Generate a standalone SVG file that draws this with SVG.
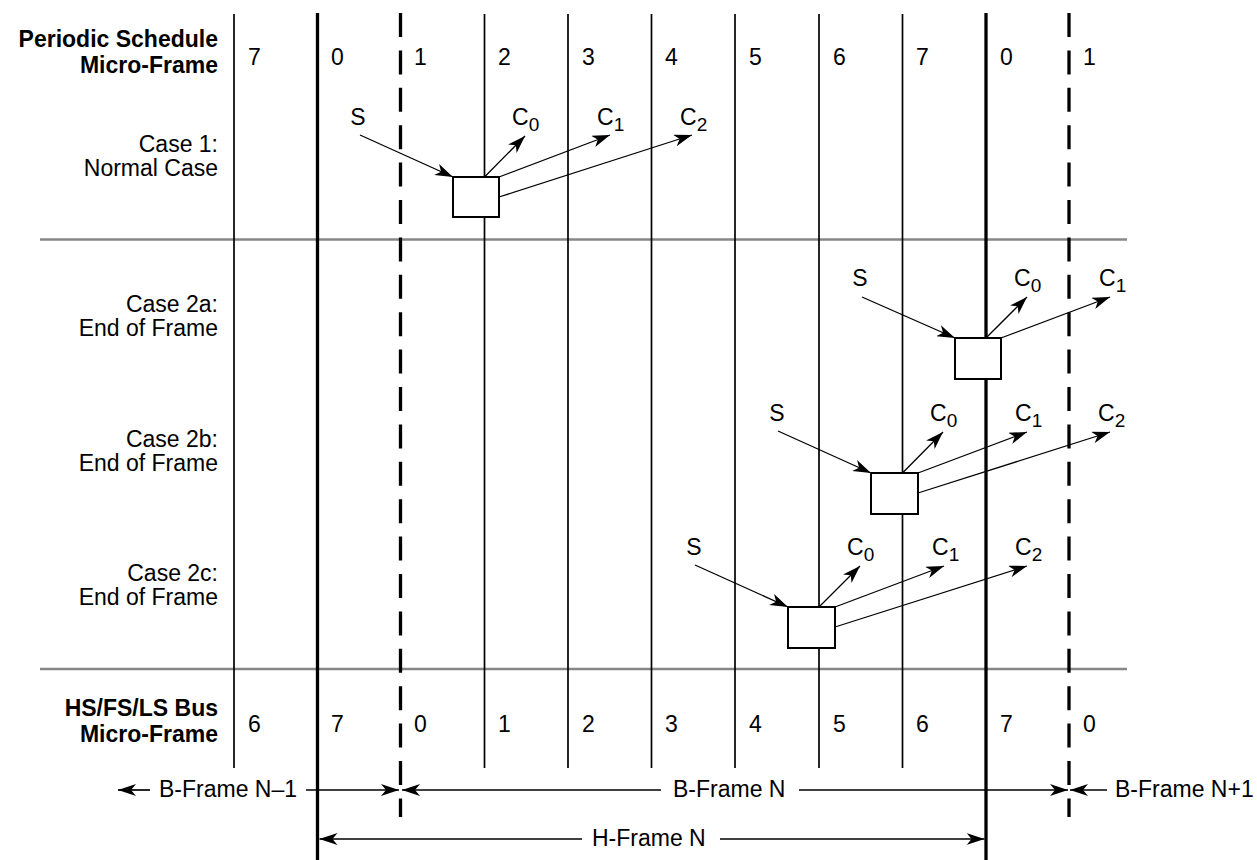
<svg xmlns="http://www.w3.org/2000/svg" width="1257" height="860" viewBox="0 0 1257 860">
<style>
text{font-family:"Liberation Sans",Arial,sans-serif;font-size:23px;fill:#000}
.b{font-weight:bold}
.r{text-anchor:end}
.m{text-anchor:middle}
.sub{font-size:19px}
.thin{stroke:#000;stroke-width:1.7;fill:none}
.thick{stroke:#000;stroke-width:3.3;fill:none}
.dash{stroke:#000;stroke-width:3.3;stroke-dasharray:24 13.4;fill:none}
.sep{stroke:#878787;stroke-width:2.6;fill:none}
.box{fill:#fff;stroke:#000;stroke-width:2}
.arr{stroke:#000;stroke-width:1.3;fill:none;marker-end:url(#ah)}
.dim{stroke:#000;stroke-width:1.7;fill:none;marker-end:url(#ah)}
</style>
<defs>
<marker id="ah" markerUnits="userSpaceOnUse" viewBox="0 0 18 12" refX="18" refY="6" markerWidth="18" markerHeight="12" orient="auto">
<path d="M0,0 L18,6 L0,12 L5,6 Z" fill="#000"/>
</marker>
</defs>
<rect width="1257" height="860" fill="#fff"/>
<g id="separators">
<line class="sep" x1="40" y1="239.5" x2="1127" y2="239.5"/>
<line class="sep" x1="40" y1="669" x2="1127" y2="669"/>
</g>
<g id="grid">
<line class="thin" x1="234" y1="14" x2="234" y2="768"/>
<line class="thin" x1="484.5" y1="14" x2="484.5" y2="768"/>
<line class="thin" x1="568" y1="14" x2="568" y2="768"/>
<line class="thin" x1="651.5" y1="14" x2="651.5" y2="768"/>
<line class="thin" x1="735" y1="14" x2="735" y2="768"/>
<line class="thin" x1="819" y1="14" x2="819" y2="768"/>
<line class="thin" x1="902.5" y1="14" x2="902.5" y2="768"/>
<line class="thick" x1="317.5" y1="13" x2="317.5" y2="860"/>
<line class="thick" x1="986" y1="13" x2="986" y2="860"/>
<line class="dash" x1="400.5" y1="13" x2="400.5" y2="817"/>
<line class="dash" x1="1069" y1="13" x2="1069" y2="817"/>
</g>
<g id="labels">
<text class="b r" x="218" y="47">Periodic Schedule</text>
<text class="b r" x="218" y="73">Micro-Frame</text>
<text class="r" x="218" y="152">Case 1:</text>
<text class="r" x="218" y="176">Normal Case</text>
<text class="r" x="218" y="312">Case 2a:</text>
<text class="r" x="218" y="336">End of Frame</text>
<text class="r" x="218" y="447">Case 2b:</text>
<text class="r" x="218" y="471">End of Frame</text>
<text class="r" x="218" y="581">Case 2c:</text>
<text class="r" x="218" y="605">End of Frame</text>
<text class="b r" x="218" y="716">HS/FS/LS Bus</text>
<text class="b r" x="218" y="742">Micro-Frame</text>
</g>
<g id="top-numbers">
<text x="248" y="65">7</text>
<text x="331" y="65">0</text>
<text x="414" y="65">1</text>
<text x="498" y="65">2</text>
<text x="582" y="65">3</text>
<text x="665" y="65">4</text>
<text x="749" y="65">5</text>
<text x="833" y="65">6</text>
<text x="916" y="65">7</text>
<text x="1000" y="65">0</text>
<text x="1083" y="65">1</text>
</g>
<g id="bottom-numbers">
<text x="248" y="732">6</text>
<text x="331" y="732">7</text>
<text x="414" y="732">0</text>
<text x="498" y="732">1</text>
<text x="582" y="732">2</text>
<text x="665" y="732">3</text>
<text x="749" y="732">4</text>
<text x="833" y="732">5</text>
<text x="916" y="732">6</text>
<text x="1000" y="732">7</text>
<text x="1083" y="732">0</text>
</g>
<g id="case1">
<rect class="box" x="453" y="177" width="46" height="40"/>
<text class="m" x="358" y="125">S</text>
<text x="512" y="125">C<tspan class="sub" dy="6">0</tspan></text>
<text x="597" y="125">C<tspan class="sub" dy="6">1</tspan></text>
<text x="680" y="125">C<tspan class="sub" dy="6">2</tspan></text>
</g>
<g id="case2a">
<rect class="box" x="955" y="338" width="46" height="41"/>
<text class="m" x="860" y="286">S</text>
<text x="1014" y="286">C<tspan class="sub" dy="6">0</tspan></text>
<text x="1099" y="286">C<tspan class="sub" dy="6">1</tspan></text>
</g>
<g id="case2b">
<rect class="box" x="871" y="473" width="47" height="41"/>
<text class="m" x="777" y="421">S</text>
<text x="930" y="421">C<tspan class="sub" dy="6">0</tspan></text>
<text x="1015" y="421">C<tspan class="sub" dy="6">1</tspan></text>
<text x="1098" y="421">C<tspan class="sub" dy="6">2</tspan></text>
</g>
<g id="case2c">
<rect class="box" x="788" y="607" width="47" height="41"/>
<text class="m" x="694" y="555">S</text>
<text x="847" y="555">C<tspan class="sub" dy="6">0</tspan></text>
<text x="932" y="555">C<tspan class="sub" dy="6">1</tspan></text>
<text x="1015" y="555">C<tspan class="sub" dy="6">2</tspan></text>
</g>
<g id="connectors">
<line class="arr" x1="360" y1="135" x2="453" y2="177"/>
<line class="arr" x1="484.5" y1="177" x2="525" y2="136"/>
<line class="arr" x1="499" y1="177" x2="610" y2="135"/>
<line class="arr" x1="499" y1="197" x2="692" y2="135"/>
<line class="arr" x1="862" y1="297" x2="955" y2="338"/>
<line class="arr" x1="986" y1="338" x2="1027" y2="297"/>
<line class="arr" x1="1001" y1="338" x2="1110" y2="297"/>
<line class="arr" x1="778" y1="431" x2="871" y2="473"/>
<line class="arr" x1="902.5" y1="473" x2="943" y2="432"/>
<line class="arr" x1="918" y1="473" x2="1027" y2="432"/>
<line class="arr" x1="918" y1="493" x2="1110" y2="432"/>
<line class="arr" x1="695" y1="565" x2="788" y2="607"/>
<line class="arr" x1="819" y1="607" x2="860" y2="566"/>
<line class="arr" x1="835" y1="607" x2="944" y2="566"/>
<line class="arr" x1="835" y1="627" x2="1027" y2="566"/>
</g>
<g id="frame-spans">
<line class="dim" x1="150" y1="790" x2="118" y2="790"/>
<text x="159" y="797">B-Frame N–1</text>
<line class="dim" x1="306" y1="790" x2="399" y2="790"/>
<line class="dim" x1="661" y1="790" x2="402" y2="790"/>
<text x="673" y="797">B-Frame N</text>
<line class="dim" x1="799" y1="790" x2="1068" y2="790"/>
<line class="dim" x1="1107" y1="790" x2="1070" y2="790"/>
<text x="1115" y="797">B-Frame N+1</text>
<line class="dim" x1="582" y1="839" x2="319.5" y2="839"/>
<text x="592" y="846">H-Frame N</text>
<line class="dim" x1="720" y1="839" x2="984.5" y2="839"/>
</g>
</svg>
